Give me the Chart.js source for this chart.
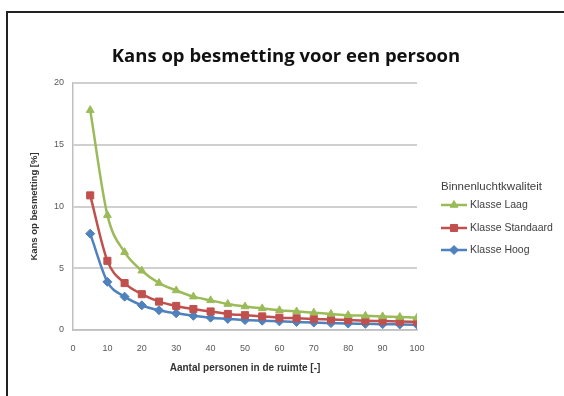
<!DOCTYPE html>
<html><head><meta charset="utf-8">
<script src="https://cdn.jsdelivr.net/npm/chart.js@4/dist/chart.umd.min.js"></script>
<style>
html,body{margin:0;padding:0;background:#fff;}
#wrap{position:absolute;left:0;top:0;width:564px;height:396px;}
#frame{position:absolute;left:6px;top:11px;width:600px;height:400px;border-left:2px solid #222;border-top:2px solid #222;}
canvas{position:absolute;left:0;top:0;}
</style></head>
<body><div id="wrap"><div id="frame"></div><canvas id="c" width="564" height="396"></canvas></div>
<script>
const chartTitle = "Kans op besmetting voor een persoon";
const xTitle = "Aantal personen in de ruimte [-]";
const yTitle = "Kans op besmetting [%]";
const legendTitle = "Binnenluchtkwaliteit";
const personen = [5,10,15,20,25,30,35,40,45,50,55,60,65,70,75,80,85,90,95,100];
const klasseLaag = [17.8,9.3,6.3,4.8,3.8,3.2,2.7,2.4,2.1,1.9,1.75,1.6,1.5,1.4,1.3,1.2,1.15,1.1,1.05,1.0];
const klasseStandaard = [10.9,5.6,3.8,2.9,2.3,1.95,1.7,1.5,1.3,1.2,1.1,1.0,0.95,0.9,0.85,0.8,0.75,0.72,0.68,0.65];
const klasseHoog = [7.8,3.9,2.7,2.0,1.6,1.35,1.15,1.0,0.9,0.8,0.75,0.7,0.65,0.6,0.56,0.52,0.5,0.47,0.45,0.43];
const seriesNames = ["Klasse Laag","Klasse Standaard","Klasse Hoog"];

const colors = ["#9BBB59","#C0504D","#4F81BD"];
const styles = ["triangle","rect","rectRot"];
const radii = [4.5,5,4.5];
const allSeries = [klasseLaag,klasseStandaard,klasseHoog];

const datasets = allSeries.map((s,i)=>({
  label: seriesNames[i],
  data: personen.map((x,j)=>({x:x,y:s[j]})),
  borderColor: colors[i],
  backgroundColor: colors[i],
  borderWidth: 2.5,
  pointStyle: styles[i],
  pointRadius: radii[i],
  pointBorderWidth: 1,
  cubicInterpolationMode: 'monotone',
  order: i
}));

const FONT = "'Liberation Sans', Arial, sans-serif";

const deco = {
  id:'deco',
  afterDraw(chart){
    const ctx = chart.ctx;
    ctx.save();
    ctx.fillStyle = '#111';
    ctx.font = "bold 18.5px 'Open Sans', sans-serif";
    ctx.textAlign = 'center';
    ctx.textBaseline = 'middle';
    ctx.fillText(chartTitle, 286, 57);
    ctx.textAlign = 'left';
    ctx.fillStyle = '#404040';
    ctx.font = "11.5px " + FONT;
    ctx.fillText(legendTitle, 441, 187);
    const ys = [205,228,250];
    ctx.font = "10.5px " + FONT;
    ys.forEach((y,i)=>{
      ctx.strokeStyle = colors[i];
      ctx.lineWidth = 2.5;
      ctx.beginPath(); ctx.moveTo(441,y); ctx.lineTo(467,y); ctx.stroke();
      ctx.fillStyle = colors[i];
      ctx.lineWidth = 1;
      Chart.helpers.drawPoint(ctx,{pointStyle:styles[i],radius:radii[i],borderWidth:1},454,y);
      ctx.fillStyle = '#404040';
      ctx.fillText(seriesNames[i], 470, y);
    });
    ctx.restore();
  }
};

new Chart(document.getElementById('c'), {
  type:'line',
  data:{datasets},
  options:{
    responsive:false,
    animation:false,
    layout:{padding:{left:25,right:147,top:83,bottom:18}},
    plugins:{legend:{display:false},title:{display:false},tooltip:{enabled:false}},
    scales:{
      x:{type:'linear',min:0,max:100,
        ticks:{stepSize:10,color:'#595959',font:{size:9,family:FONT},padding:10},
        grid:{display:false,drawTicks:true,tickLength:3,tickColor:'#bfbfbf'},
        border:{color:'#bfbfbf',width:1.5},
        title:{display:true,text:xTitle,color:'#333',font:{size:10,weight:'bold',family:FONT},padding:{top:1}},
        afterFit(s){s.height=48;}
      },
      y:{min:0,max:20,
        ticks:{stepSize:5,color:'#595959',font:{size:9,family:FONT},padding:9},
        grid:{color:'#d0d0d0',lineWidth:2,drawTicks:false},
        border:{color:'#bfbfbf',width:1.5},
        title:{display:true,text:yTitle,color:'#333',font:{size:9.5,weight:'bold',family:FONT},padding:{bottom:6}},
        afterFit(s){s.width=48;}
      }
    }
  },
  plugins:[deco]
});
</script></body></html>
